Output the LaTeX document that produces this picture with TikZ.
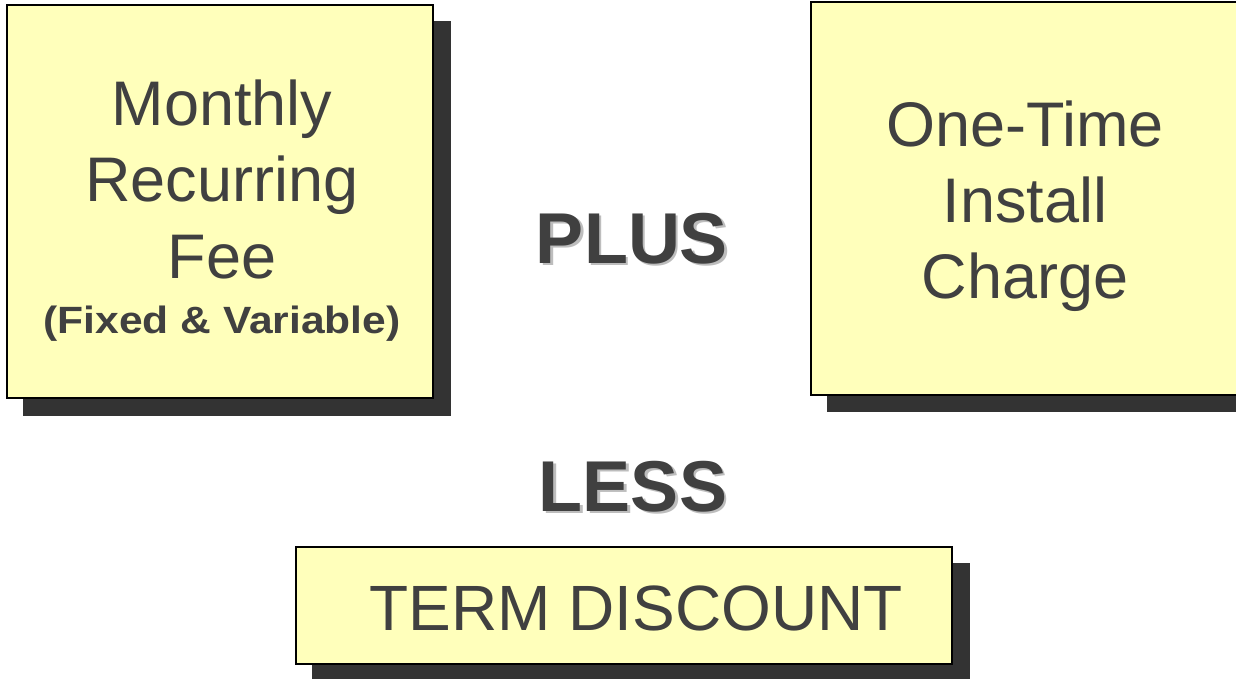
\documentclass[tikz,border=0pt]{standalone}
\usepackage{fontspec}
\usepackage{graphicx}
\setmainfont{Liberation Sans}
\definecolor{boxfill}{HTML}{FFFFBB}
\definecolor{shade}{HTML}{333333}
\definecolor{ink}{HTML}{404040}
\definecolor{txtshadow}{HTML}{BDBDBD}
\newcommand{\shadowed}[1]{\rlap{\hspace{2.5pt}\raisebox{-2.5pt}{\color{txtshadow}#1}}#1}
\begin{document}
\begin{tikzpicture}[x=1pt,y=-1pt,
  card/.style={draw=black,line width=1.6pt,fill=boxfill},
  cardshadow/.style={fill=shade,draw=none},
  lbl/.style={anchor=base,inner sep=0pt,text=ink},
  big/.style={lbl,font=\fontsize{63}{63}\selectfont},
  op/.style={anchor=base,inner sep=0pt,text=ink,font=\bfseries\fontsize{72}{72}\selectfont}]
\useasboundingbox (0,0) rectangle (1236,678);
% shadows
\fill[cardshadow] (23,21) rectangle (451,416);
\fill[cardshadow] (827,18) rectangle (1240,412);
\fill[cardshadow] (312,563) rectangle (970,680);
% boxes
\draw[card] (7,5) rectangle (433,398) coordinate (lbox);
\draw[card] (811,2) rectangle (1245,395) coordinate (rbox);
\draw[card] (296,547) rectangle (952,664) coordinate (bbox);
% left texts
\node[big] (m1) at (222,125) {Monthly};
\node[big] (m2) at (222,201) {Recurring};
\node[big] (m3) at (222,278) {Fee};
\node[lbl,font=\bfseries\fontsize{38}{38}\selectfont] (m4) at (222,333) {\scalebox{1.12}[1]{(Fixed \& Variable)}};
% right texts
\node[big] (r1) at (1025,146) {One-Time};
\node[big] (r2) at (1025,222) {Install};
\node[big] (r3) at (1025,298) {Charge};
% operators
\node[op] (plus) at (632,263) {\shadowed{PLUS}};
\node[op] (less) at (633,511) {\shadowed{LESS}};
% bottom text
\node[lbl,font=\fontsize{64}{64}\selectfont] (t) at (636,630) {TERM DISCOUNT};
\end{tikzpicture}
\end{document}
